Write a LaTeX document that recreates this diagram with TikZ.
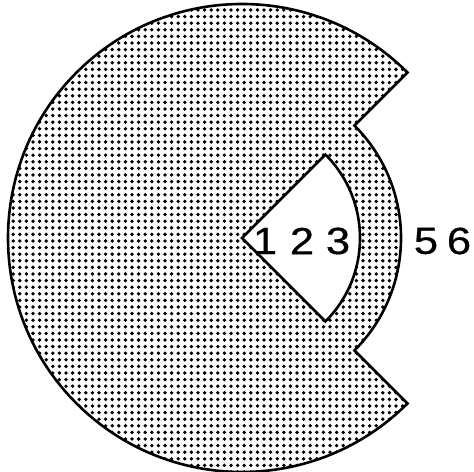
\documentclass[tikz,border=0pt]{standalone}
\usepackage{fontspec}
\newfontfamily\digitfont[FakeStretch=1.15,FakeBold=0.6]{Liberation Sans}
\usetikzlibrary{patterns.meta}

\begin{document}
\begin{tikzpicture}[x=1bp,y=1bp,
disc/.style={line width=2.6bp,pattern={Dots[radius=1.9bp,distance=6.6bp]}},
wedge/.style={line width=2.6bp,fill=white},
digit/.style={inner sep=0pt,font=\digitfont\fontsize{38}{40}\selectfont}]
\useasboundingbox (0,0) rectangle (474,472);
\coordinate (o) at (242,234);
\draw[disc] (o) ++(45:234) arc[start angle=45,end angle=315,radius=234] -- ++(135:75)
  arc[start angle=-45,end angle=45,radius=159] -- cycle;
\draw[wedge] (o) -- ++(45:118) arc[start angle=45,end angle=-45,radius=118] -- cycle;
\node[digit] (d1) at (265,231) {1};
\node[digit] (d2) at (302,231) {2};
\node[digit] (d3) at (338,231) {3};
\node[digit] (d5) at (426,231) {5};
\node[digit] (d6) at (459,231) {6};
\end{tikzpicture}
\end{document}
